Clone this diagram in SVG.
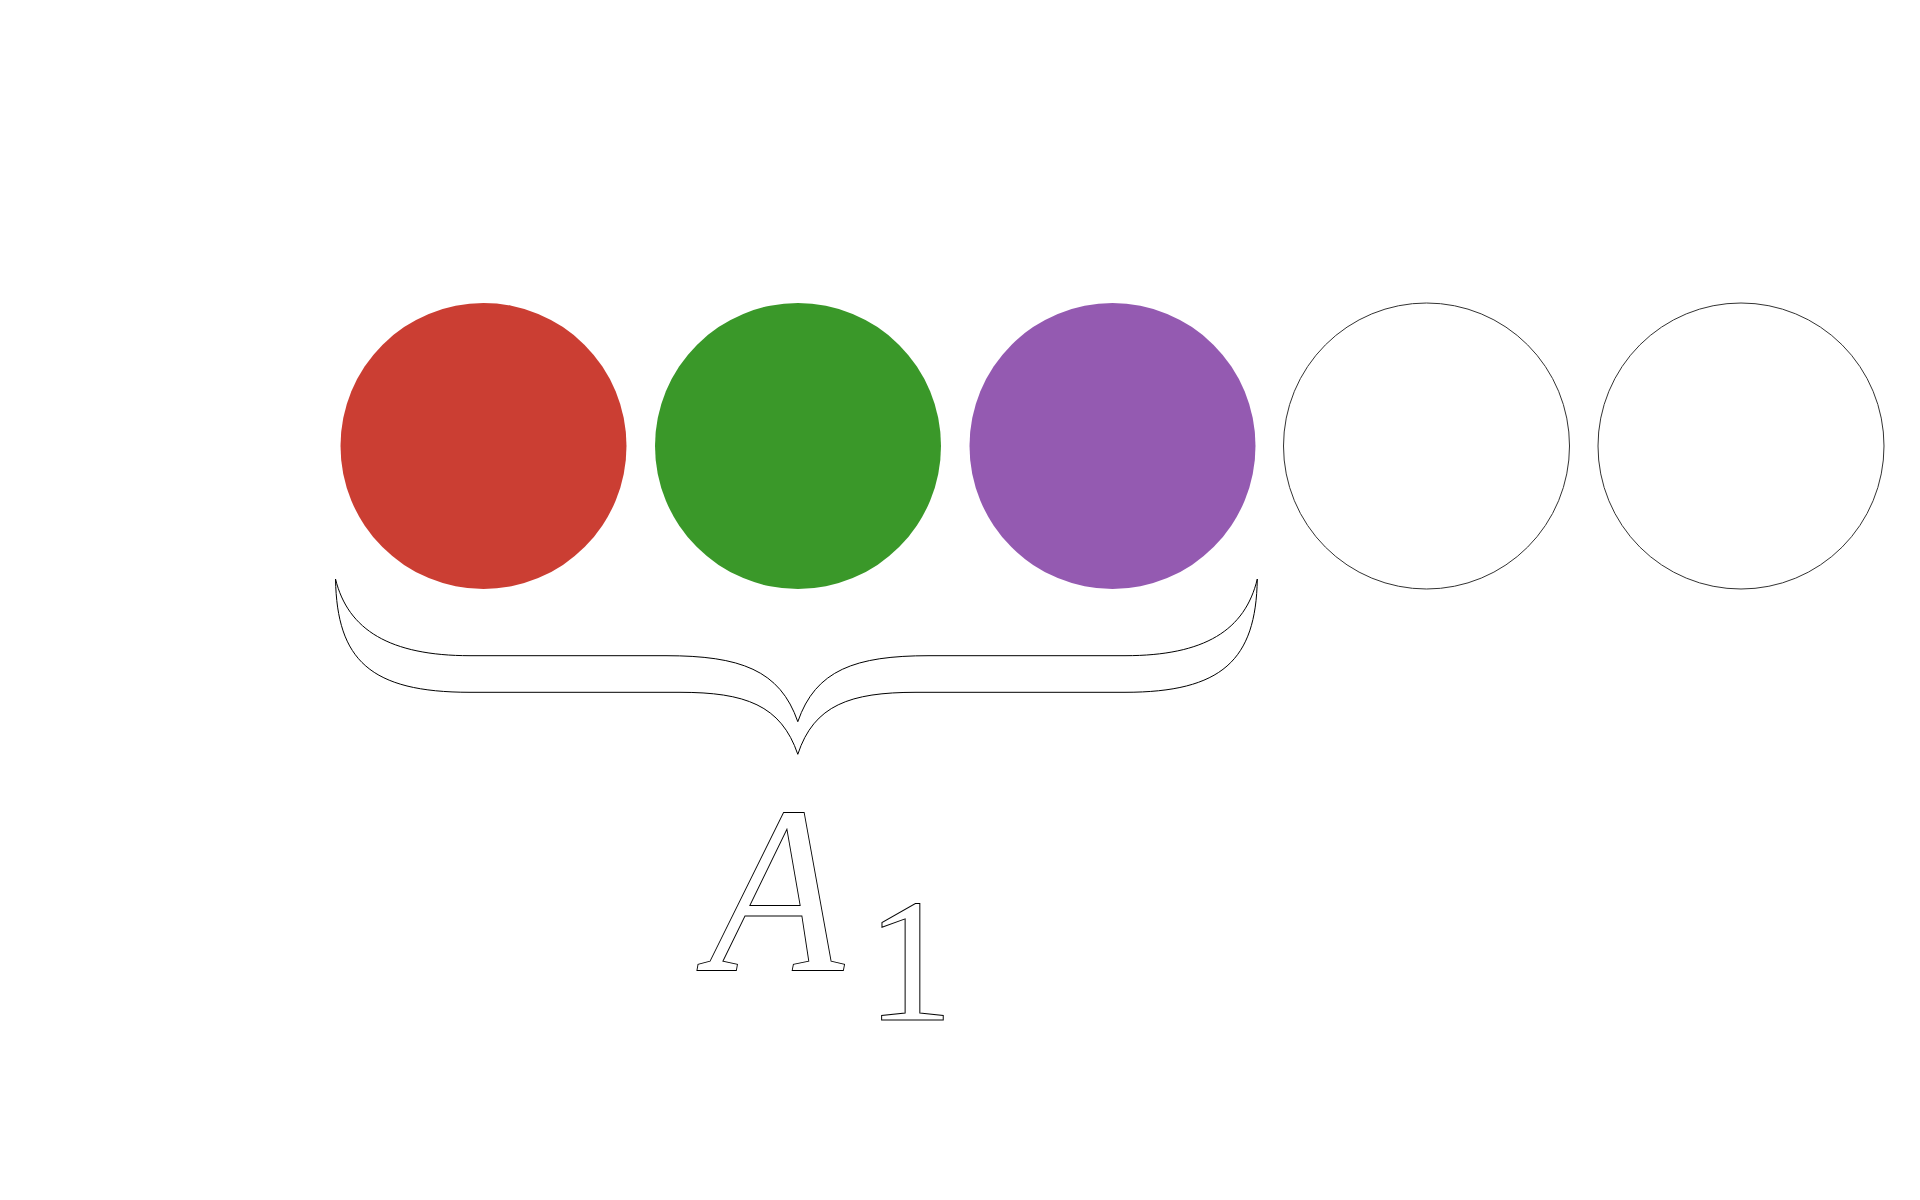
<svg xmlns="http://www.w3.org/2000/svg" width="1920" height="1200" viewBox="0 0 1920 1200">
<style>
.dot{stroke:none}
.empty{fill:#ffffff;stroke:#333333;stroke-width:1}
.outline{fill:#ffffff;stroke:#000000;stroke-width:1;stroke-linejoin:round}
.lbl{font-family:"Liberation Serif","DejaVu Serif",serif;fill:#ffffff;stroke:#000000;stroke-width:1}
</style>
<rect x="0" y="0" width="1920" height="1200" fill="#ffffff"/>
<g id="circle-red"><circle class="dot" cx="483.5" cy="446" r="143" fill="#cb3e33"/></g>
<g id="circle-green"><circle class="dot" cx="798" cy="446" r="143" fill="#3a9829"/></g>
<g id="circle-purple"><circle class="dot" cx="1112.5" cy="446" r="143" fill="#945ab1"/></g>
<g id="circle-empty-1"><circle class="empty" cx="1426.5" cy="446" r="143"/></g>
<g id="circle-empty-2"><circle class="empty" cx="1741" cy="446" r="143"/></g>
<g id="brace">
<path class="outline" d="M 335.5 579 C 348 630, 390 655.7, 470 655.7 L 666 655.7 C 740 655.7, 780 670, 797.8 721.7 C 815.6 670, 855 655.7, 929 655.7 L 1125 655.7 C 1205 655.7, 1245 630, 1257.3 579 C 1256 660, 1222 692.3, 1125 692.3 L 916 692.3 C 850 692.3, 814 705, 797.8 754.3 C 781 705, 745 692.3, 680 692.3 L 470 692.3 C 370 692.3, 337 660, 335.5 579 Z"/>
</g>
<g id="label">
<text class="lbl" transform="translate(709 971) scale(0.92 1)" x="0" y="0" font-size="240" font-style="italic">A</text>
<text class="lbl" x="910" y="1020" font-size="175" text-anchor="middle">1</text>
</g>
</svg>
